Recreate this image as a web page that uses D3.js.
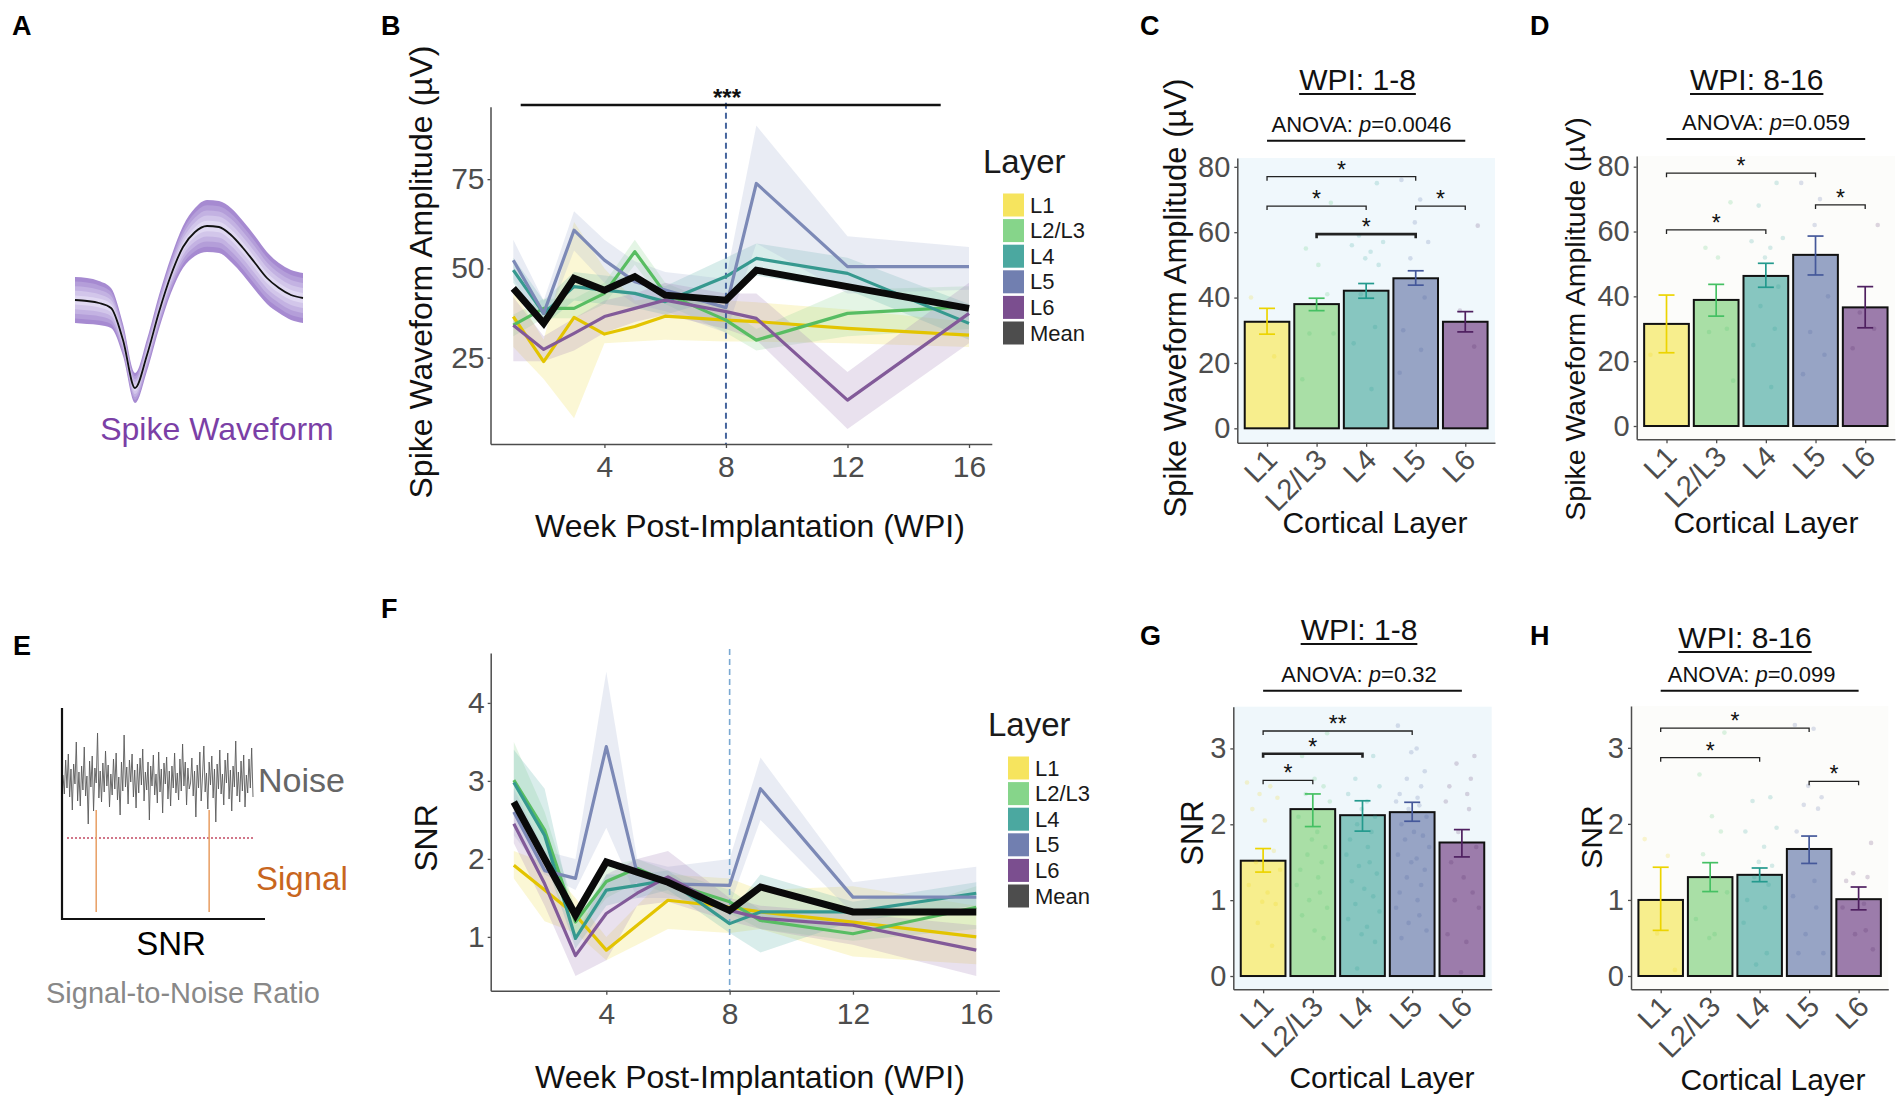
<!DOCTYPE html>
<html lang="en">
<head>
<meta charset="UTF-8">
<title>Spike waveform amplitude and SNR by cortical layer</title>
<script src="https://cdn.jsdelivr.net/npm/d3@7"></script>
<style>
  body { margin: 0; background: #fff; }
  svg { font-family: "Liberation Sans", Arial, sans-serif; }
</style>
</head>
<body>
<svg id="fig" width="1904" height="1104"></svg>
<script>
// ---------- data ----------
const layers = ["L1", "L2/L3", "L4", "L5", "L6"];
const legendNames = ["L1", "L2/L3", "L4", "L5", "L6", "Mean"];
const weeks = [1, 2, 3, 4, 5, 6, 8, 9, 12, 16];
const weekTicks = [4, 8, 12, 16];

// B: spike waveform amplitude (µV) per week, mean and ribbon bounds
const ampMean = [44.4, 34.6, 47.2, 43.9, 47.7, 42.5, 41.1, 49.5, 44.9, 38.8];
const ampL1 = [36.5, 23.9, 36.3, 31.6, 33.7, 36.6, 35.5, 35.1, 33.2, 31.3];
const ampL1Lo = [28, 19, 8, 29, 29.5, 30, 29.5, 29.5, 29, 28];
const ampL1Hi = [44, 30, 63, 50, 41, 42, 41, 40.5, 38.5, 35];
const ampL23 = [34.1, 38.8, 38.8, 43.0, 54.7, 43.0, 35.5, 29.9, 37.4, 39.3];
const ampL23Lo = [31, 36, 36, 40, 51, 40, 32, 27, 31, 33];
const ampL23Hi = [37, 41.5, 41.5, 46, 58, 46, 39, 33, 44, 45];
const ampL4 = [49.5, 37.4, 44.9, 43.9, 43.0, 40.7, 47.7, 52.8, 48.6, 34.6];
const ampL4Lo = [46, 34, 41, 40, 39, 37, 42, 48, 44, 30];
const ampL4Hi = [53, 41, 49, 48, 47, 45, 53, 57, 53, 40];
const ampL5 = [52.3, 37.4, 60.7, 52.3, 46.3, 43.9, 39.0, 73.8, 50.5, 50.5];
const ampL5Lo = [47, 33, 55, 46, 40, 38, 32, 57, 43, 44];
const ampL5Hi = [58, 41, 66, 58, 52, 49, 47, 90, 59, 56];
const ampL6 = [34.1, 27.3, 31.8, 36.5, 38.8, 41.1, 37.9, 36.0, 13.1, 37.4];
const ampL6Lo = [24, 24, 27, 32, 35, 37, 33, 30, 5, 29];
const ampL6Hi = [42, 31, 36, 41, 43, 46, 43, 43, 21, 46];

// F: SNR per week
const snrMean = [2.73, 2.0, 1.28, 1.96, 1.83, 1.70, 1.34, 1.64, 1.32, 1.32];
const snrL1 = [1.92, 1.6, 1.28, 0.83, 1.15, 1.47, 1.38, 1.32, 1.19, 1.0];
const snrL1Lo = [1.75, 1.2, 1.05, 0.7, 0.9, 1.1, 1.05, 1.1, 0.75, 0.65];
const snrL1Hi = [2.1, 1.95, 1.5, 1.0, 1.4, 1.8, 1.75, 1.6, 1.65, 1.4];
const snrL23 = [3.01, 2.37, 1.19, 1.71, 1.88, 1.70, 1.45, 1.21, 1.04, 1.38];
const snrL23Lo = [2.7, 2.1, 1.0, 1.5, 1.7, 1.55, 1.3, 1.1, 0.95, 1.1];
const snrL23Hi = [3.5, 2.6, 1.35, 1.9, 2.0, 1.85, 1.6, 1.35, 1.15, 1.65];
const snrL4 = [2.98, 2.3, 0.98, 1.60, 1.66, 1.73, 1.17, 1.32, 1.32, 1.56];
const snrL4Lo = [2.6, 2.0, 0.85, 1.4, 1.5, 1.6, 1.05, 0.8, 1.2, 1.4];
const snrL4Hi = [3.4, 2.9, 1.15, 1.8, 1.8, 1.85, 1.3, 1.8, 1.45, 1.7];
const snrL5 = [2.60, 1.85, 1.75, 3.44, 1.81, 1.68, 1.66, 2.90, 1.51, 1.51];
const snrL5Lo = [2.3, 1.8, 1.6, 2.4, 1.5, 1.5, 1.4, 2.5, 1.3, 1.3];
const snrL5Hi = [2.9, 2.1, 2.0, 4.4, 2.0, 1.9, 2.0, 3.3, 1.7, 1.9];
const snrL6 = [2.45, 1.68, 0.76, 1.30, 1.56, 1.77, 1.34, 1.24, 1.15, 0.83];
const snrL6Lo = [2.2, 1.4, 0.5, 0.7, 1.4, 1.45, 1.2, 1.1, 0.9, 0.5];
const snrL6Hi = [2.7, 2.0, 1.0, 1.8, 2.0, 2.1, 1.5, 1.4, 1.3, 1.15];

// C, D, G, H: bar means with error bar bounds
const ampEarly = [32.6, 38.0, 42.1, 45.9, 32.6];
const ampEarlyLo = [28.8, 36.0, 39.8, 43.8, 29.5];
const ampEarlyHi = [36.7, 39.8, 44.3, 48.2, 35.7];
const ampLate = [31.5, 38.9, 46.3, 52.8, 36.6];
const ampLateLo = [22.6, 33.9, 42.8, 46.6, 30.3];
const ampLateHi = [40.4, 43.7, 50.2, 58.6, 43.0];
const snrEarly = [1.52, 2.20, 2.12, 2.16, 1.76];
const snrEarlyLo = [1.37, 1.97, 1.91, 2.04, 1.57];
const snrEarlyHi = [1.68, 2.40, 2.31, 2.29, 1.93];
const snrLate = [1.00, 1.30, 1.33, 1.67, 1.01];
const snrLateLo = [0.60, 1.11, 1.24, 1.48, 0.87];
const snrLateHi = [1.43, 1.49, 1.42, 1.84, 1.17];

// individual channel values shown as faint points
const ampEarlyPts = [
  [40, 22],
  [69, 55, 50, 41, 29, 29, 15],
  [75, 59, 57, 56, 54, 52, 50, 41, 31, 26, 12],
  [76, 70, 63, 57, 52, 40, 30, 24, 17],
  [62, 36, 25]
];
const ampLatePts = [
  [22],
  [69, 55, 52, 30, 29, 14],
  [75, 68, 58, 57, 55, 52, 43, 37, 30, 25, 12],
  [75, 70, 62, 40, 29, 22, 16],
  [62, 35, 30, 24]
];
const snrEarlyPts = [
  [2.55, 2.5, 2.4, 2.35, 2.2, 2.05, 1.65, 1.5, 1.4, 1.2, 1.1, 0.98, 0.95, 0.7, 0.4],
  [3.2, 2.9, 2.6, 2.5, 2.4, 2.3, 2.1, 1.9, 1.8, 1.7, 1.6, 1.5, 1.4, 1.3, 1.2, 1.1, 1.0, 0.9, 0.8, 0.6, 0.5],
  [2.9, 2.6, 2.5, 2.4, 2.3, 2.2, 2.1, 2.0, 1.9, 1.8, 1.7, 1.6, 1.5, 1.45, 1.35, 1.25, 1.15, 1.05, 0.95, 0.85, 0.75, 0.65, 0.55, 0.45, 0.1],
  [3.3, 3.0, 2.95, 2.7, 2.6, 2.5, 2.4, 2.35, 2.3, 2.25, 2.2, 2.1, 2.0, 1.9, 1.85, 1.8, 1.7, 1.6, 1.55, 1.5, 1.4, 1.3, 1.2, 1.1, 1.0, 0.9, 0.8, 0.7, 0.6, 0.5],
  [2.9, 2.8, 2.6, 2.5, 2.4, 2.3, 2.2, 1.9, 1.7, 1.5, 1.3, 1.1, 1.0, 0.9, 0.55, 0.45, 0.05]
];
const snrLatePts = [
  [1.8, 1.58, 0.56, 0.08],
  [3.2, 2.65, 2.1, 1.9, 1.6, 1.1, 0.75, 0.55, 0.5],
  [2.35, 2.3, 1.95, 1.9, 1.7, 1.5, 1.45, 1.3, 1.2, 1.0, 0.9, 0.7, 0.3, 0.15],
  [3.3, 3.25, 2.5, 2.35, 2.25, 2.2, 1.9, 1.25, 1.05, 0.9, 0.55, 0.3, 0.3],
  [1.75, 1.35, 1.3, 1.25, 0.95, 0.9, 0.6, 0.55, 0.35]
];

// pairwise comparisons: [from, to, bracket height, label]
const ampEarlySig = [["L1", "L5", 77, "*"], ["L1", "L4", 68, "*"], ["L5", "L6", 68, "*"], ["L2/L3", "L5", 59.4, "*"]];
const ampLateSig = [["L1", "L5", 78, "*"], ["L1", "L4", 60.5, "*"], ["L5", "L6", 68.2, "*"]];
const snrEarlySig = [["L1", "L5", 3.23, "**"], ["L1", "L4", 2.93, "*"], ["L1", "L2/L3", 2.58, "*"]];
const snrLateSig = [["L1", "L5", 3.26, "*"], ["L1", "L4", 2.87, "*"], ["L5", "L6", 2.56, "*"]];

// A: schematic spike waveform (mean and spread)
const wfMean = [0, -1, -3, -8, -40, -88, -55, -12, 25, 53, 68, 74, 73, 65, 52, 37, 22, 12, 5, 2];
const wfSpread = [23, 23, 22, 20, 16, 15, 16, 17, 18, 21, 24, 26, 26, 27, 27, 27, 26, 25, 25, 25];

// E: schematic noise trace, detection threshold and two spike events
const noise = [5, -14, 20, -8, 26, -17, 11, -30, 16, -4, 38, -21, 8, -26, 14, -10, 33, -16, 4, -44,
  19, -7, 24, -31, 12, -3, 47, -18, 9, -22, 17, -12, 29, -6, 15, -27, 6, -15, 21, -9,
  27, -20, 3, -35, 18, -11, 45, -7, 13, -24, 20, -2, 26, -17, 10, -28, 16, -13, 22, -5,
  31, -21, 8, -10, 18, -40, 14, -6, 25, -15, 6, -23, 28, -12, 11, -33, 17, -4, 23, -19,
  9, -26, 14, -8, 27, -13, 7, -20, 21, -11, 36, -6, 18, -25, 12, -9,
  -3, 22, -16, 9, -37, 15, -8, 28, -21, 4, 34, -12, 7, -29, 18, -5, 24, -18, 11, -42,
  16, -9, 30, -14, 6, -25, 20, -3, 27, -19, 10, -31, 14, -7, 39, -16, 8, -22, 19, -11,
  25, -27, 5, -13, 21, -8, 32, -17];
const threshold = -58;
const spikeAt = [25, 110];
const spikeTop = -30;
const spikeBottom = -132;

// ---------- styles ----------
const FONT = "'Liberation Sans', Arial, sans-serif";
const lineCol = ["#e3c400", "#58bd62", "#36998f", "#7c89b6", "#825a99"];
const ribbonCol = ["#f0dc50", "#8ed692", "#5fb5ad", "#a3aed2", "#a283b6"];
const keyCol = ["#f6e45e", "#86d58a", "#4ba8a0", "#717fb0", "#7b4e8f", "#4d4d4d"];
const barCol = ["#f7ee8d", "#a9dfa6", "#87c6c0", "#97a4c5", "#9c7cab"];
const errCol = ["#ecd400", "#45c063", "#249a8e", "#45589a", "#4f2060"];
const gray = "#4d4d4d";
const jitter = [-0.9, 0.4, -0.2, 0.8, -0.6, 0.1, 0.6, -0.4, 0.95, -0.8, 0.25, -0.05, 0.7, -0.3, 0.5, -0.7, 0.3];

const svg = d3.select("#fig");

function label(t, x, y) {
  svg.append("text").attr("x", x).attr("y", y).attr("font-size", 27)
    .attr("font-weight", "bold").attr("fill", "#000").text(t);
}

function vLabel(t, x, y, size) {
  svg.append("text").attr("transform", `translate(${x},${y}) rotate(-90)`)
    .attr("text-anchor", "middle").attr("dominant-baseline", "central")
    .attr("font-size", size).attr("fill", "#111").text(t);
}

function styleAxis(size) {
  return sel => {
    sel.attr("font-family", FONT).attr("font-size", size);
    sel.select(".domain").attr("stroke", gray).attr("stroke-width", 1.5);
    sel.selectAll(".tick line").attr("stroke", gray).attr("stroke-width", 1.3);
    sel.selectAll(".tick text").attr("fill", gray);
  };
}

// ---------- line panels (B, F) ----------
function linePanel(o) {
  const g = svg.append("g");
  const x = d3.scaleLinear().domain([0.25, 16.75]).range(o.xr);
  const y = d3.scaleLinear().domain(o.yd).range(o.yr);
  const area = d3.area().x((d, i) => x(weeks[i])).y0(d => y(d[0])).y1(d => y(d[1]));
  const line = d3.line().x((d, i) => x(weeks[i])).y(d => y(d));

  o.series.forEach((s, k) => {
    g.append("path").attr("d", area(d3.zip(s.lo, s.hi)))
      .attr("fill", ribbonCol[k]).attr("opacity", 0.24);
  });
  g.append("line").attr("x1", x(8)).attr("x2", x(8))
    .attr("y1", o.yr[1] - 4).attr("y2", o.yr[0])
    .attr("stroke", o.dashCol).attr("stroke-width", o.dashW).attr("stroke-dasharray", "6,4");
  o.series.forEach((s, k) => {
    g.append("path").attr("d", line(s.mean)).attr("fill", "none")
      .attr("stroke", lineCol[k]).attr("stroke-width", 3.2).attr("stroke-linejoin", "round");
  });
  g.append("path").attr("d", line(o.mean)).attr("fill", "none")
    .attr("stroke", "#0a0a0a").attr("stroke-width", 7).attr("stroke-linejoin", "miter");

  g.append("g").attr("transform", `translate(0,${o.yr[0]})`)
    .call(d3.axisBottom(x).tickValues(weekTicks).tickSize(4).tickPadding(8).tickSizeOuter(0))
    .call(styleAxis(30));
  g.append("g").attr("transform", `translate(${o.xr[0]},0)`)
    .call(d3.axisLeft(y).tickValues(o.yTicks).tickFormat(d3.format("d")).tickSize(3).tickPadding(3).tickSizeOuter(0))
    .call(styleAxis(30));

  svg.append("text").attr("x", o.xLabel[0]).attr("y", o.xLabel[1]).attr("text-anchor", "middle")
    .attr("font-size", 32).attr("fill", "#111").text("Week Post-Implantation (WPI)");
  vLabel(o.yLabel, o.yLabelPos[0], o.yLabelPos[1], o.yLabelSize);

  // legend
  const lg = svg.append("g").attr("transform", `translate(${o.legend[0]},${o.legend[1]})`);
  lg.append("text").attr("x", 0).attr("y", 0).attr("font-size", 33).attr("fill", "#1a1a1a").text("Layer");
  legendNames.forEach((n, i) => {
    const cy = 32 + i * 25.6;
    lg.append("rect").attr("x", 20).attr("y", cy - 11.5).attr("width", 21).attr("height", 23)
      .attr("fill", keyCol[i]);
    lg.append("text").attr("x", 47).attr("y", cy + 7.5).attr("font-size", 22)
      .attr("fill", "#1a1a1a").text(n);
  });
  return { x, y };
}

// ---------- bar panels (C, D, G, H) ----------
function barPanel(o) {
  const g = svg.append("g");
  const x = d3.scalePoint().domain(layers).range(o.xr).padding(0.6);
  const y = d3.scaleLinear().domain(o.yd).range(o.yr);
  const bw = x.step() * 0.9;

  g.append("rect").attr("x", o.xr[0]).attr("y", o.yr[1])
    .attr("width", o.xr[1] - o.xr[0]).attr("height", o.yr[0] - o.yr[1]).attr("fill", o.bg);

  layers.forEach((l, k) => {
    g.append("rect").attr("x", x(l) - bw / 2).attr("y", y(o.vals[k]))
      .attr("width", bw).attr("height", y(0) - y(o.vals[k]))
      .attr("fill", barCol[k]).attr("stroke", "#111").attr("stroke-width", 2);
  });
  layers.forEach((l, k) => {
    o.pts[k].forEach((v, i) => {
      g.append("circle").attr("cx", x(l) + jitter[(i + k * 3) % jitter.length] * 0.36 * x.step())
        .attr("cy", y(v)).attr("r", 2.3).attr("fill", errCol[k]).attr("opacity", 0.18);
    });
  });
  layers.forEach((l, k) => {
    const cx = x(l), cw = 8;
    const eg = g.append("g").attr("stroke", errCol[k]).attr("stroke-width", 1.7);
    eg.append("line").attr("x1", cx).attr("x2", cx).attr("y1", y(o.lo[k])).attr("y2", y(o.hi[k]));
    eg.append("line").attr("x1", cx - cw).attr("x2", cx + cw).attr("y1", y(o.lo[k])).attr("y2", y(o.lo[k]));
    eg.append("line").attr("x1", cx - cw).attr("x2", cx + cw).attr("y1", y(o.hi[k])).attr("y2", y(o.hi[k]));
  });

  o.sig.forEach(([a, b, v, t], i) => {
    const yy = y(v);
    g.append("path").attr("d", `M${x(a)},${yy + 4}V${yy}H${x(b)}V${yy + 4}`)
      .attr("fill", "none").attr("stroke", "#222")
      .attr("stroke-width", o.boldSig === i ? 2.6 : 1.3);
    g.append("text").attr("x", (x(a) + x(b)) / 2).attr("y", yy + 1).attr("text-anchor", "middle")
      .attr("font-size", 23).attr("fill", "#111").text(t);
  });

  g.append("g").attr("transform", `translate(0,${o.yr[0]})`)
    .call(d3.axisBottom(x).tickSize(4).tickFormat("").tickSizeOuter(0))
    .call(styleAxis(29));
  g.append("g").attr("transform", `translate(${o.xr[0]},0)`)
    .call(d3.axisLeft(y).tickValues(o.yTicks).tickFormat(d3.format("d")).tickSize(3).tickPadding(4).tickSizeOuter(0))
    .call(styleAxis(29));
  layers.forEach(l => {
    g.append("text").attr("transform", `translate(${x(l) + 12},${o.yr[0] + 19}) rotate(-45)`)
      .attr("text-anchor", "end").attr("font-size", 29).attr("fill", gray).text(l);
  });

  // title with underline
  const tt = svg.append("text").attr("x", o.title[0]).attr("y", o.title[1]).attr("text-anchor", "middle")
    .attr("font-size", 30).attr("fill", "#111").text(o.titleText);
  const tw = tt.node().getComputedTextLength();
  svg.append("line").attr("x1", o.title[0] - tw / 2).attr("x2", o.title[0] + tw / 2)
    .attr("y1", o.title[1] + 4).attr("y2", o.title[1] + 4).attr("stroke", "#111").attr("stroke-width", 2);

  const an = svg.append("text").attr("x", o.anova[0]).attr("y", o.anova[1]).attr("text-anchor", "middle")
    .attr("font-size", 22).attr("fill", "#111");
  an.append("tspan").text("ANOVA: ");
  an.append("tspan").attr("font-style", "italic").text("p");
  an.append("tspan").text("=" + o.p);
  svg.append("line").attr("x1", x("L1")).attr("x2", x("L6"))
    .attr("y1", o.anova[1] + 9).attr("y2", o.anova[1] + 9).attr("stroke", "#111").attr("stroke-width", 2);

  svg.append("text").attr("x", o.xLabel[0]).attr("y", o.xLabel[1]).attr("text-anchor", "middle")
    .attr("font-size", 30).attr("fill", "#111").text("Cortical Layer");
  vLabel(o.yLabel, o.yLabelPos[0], o.yLabelPos[1], o.yLabelSize);
}

// ---------- A: spike waveform schematic ----------
(function () {
  const x = d3.scaleLinear().domain([0, wfMean.length - 1]).range([75, 303]);
  const y = d3.scaleLinear().domain([-100, 100]).range([400, 200]);
  const bands = [[1, "#a68ad1"], [0.8, "#b49ed9"], [0.6, "#c3b2e2"], [0.4, "#d2c6ea"], [0.2, "#e0d8f2"]];
  bands.forEach(([f, c]) => {
    svg.append("path").attr("fill", c)
      .attr("d", d3.area().curve(d3.curveMonotoneX).x((d, i) => x(i))
        .y0((d, i) => y(d - wfSpread[i] * f)).y1((d, i) => y(d + wfSpread[i] * f))(wfMean));
  });
  svg.append("path").attr("fill", "none").attr("stroke", "#111").attr("stroke-width", 1.8)
    .attr("d", d3.line().curve(d3.curveMonotoneX).x((d, i) => x(i)).y(d => y(d))(wfMean));
  svg.append("text").attr("x", 217).attr("y", 440).attr("text-anchor", "middle")
    .attr("font-size", 32).attr("fill", "#7b3fa6").text("Spike Waveform");
})();

// ---------- E: SNR schematic ----------
(function () {
  const x = d3.scaleLinear().domain([0, noise.length - 1]).range([63, 253]);
  const y = d3.scaleLinear().domain([0, 100]).range([780, 680]);
  svg.append("path").attr("fill", "none").attr("stroke", "#5a5a5a").attr("stroke-width", 0.9)
    .attr("d", d3.line().x((d, i) => x(i)).y(d => y(d))(noise));
  svg.append("line").attr("x1", 67).attr("x2", 253).attr("y1", y(threshold)).attr("y2", y(threshold))
    .attr("stroke", "#c24a63").attr("stroke-width", 1.6).attr("stroke-dasharray", "2,2");
  spikeAt.forEach(i => {
    svg.append("line").attr("x1", x(i)).attr("x2", x(i)).attr("y1", y(spikeTop)).attr("y2", y(spikeBottom))
      .attr("stroke", "#e9a36b").attr("stroke-width", 1.6);
  });
  svg.append("path").attr("d", "M62,708V919H265").attr("fill", "none").attr("stroke", "#111").attr("stroke-width", 2.2);
  svg.append("text").attr("x", 258).attr("y", 792).attr("font-size", 34).attr("fill", "#666").text("Noise");
  svg.append("text").attr("x", 256).attr("y", 890).attr("font-size", 33).attr("fill", "#c8661e").text("Signal");
  svg.append("text").attr("x", 171).attr("y", 955).attr("text-anchor", "middle").attr("font-size", 33)
    .attr("fill", "#000").text("SNR");
  svg.append("text").attr("x", 183).attr("y", 1003).attr("text-anchor", "middle").attr("font-size", 29)
    .attr("fill", "#888").text("Signal-to-Noise Ratio");
})();

// ---------- B ----------
linePanel({
  xr: [490.5, 991.8], yd: [0.8, 95.3], yr: [444, 106.7], yTicks: [25, 50, 75],
  series: [
    { mean: ampL1, lo: ampL1Lo, hi: ampL1Hi },
    { mean: ampL23, lo: ampL23Lo, hi: ampL23Hi },
    { mean: ampL4, lo: ampL4Lo, hi: ampL4Hi },
    { mean: ampL5, lo: ampL5Lo, hi: ampL5Hi },
    { mean: ampL6, lo: ampL6Lo, hi: ampL6Hi }
  ],
  mean: ampMean, dashCol: "#46659e", dashW: 2,
  xLabel: [750, 537], yLabel: "Spike Waveform Amplitude (µV)", yLabelPos: [421, 272], yLabelSize: 32,
  legend: [983, 173]
});
// overall comparison bar in B
svg.append("line").attr("x1", 520.7).attr("x2", 940.7).attr("y1", 105).attr("y2", 105)
  .attr("stroke", "#111").attr("stroke-width", 2.4);
svg.append("text").attr("x", 727).attr("y", 106).attr("text-anchor", "middle")
  .attr("font-size", 24).attr("font-weight", "bold").attr("fill", "#111").text("***");

// ---------- F ----------
linePanel({
  xr: [490.7, 999.4], yd: [0.31, 4.64], yr: [990.7, 653], yTicks: [1, 2, 3, 4],
  series: [
    { mean: snrL1, lo: snrL1Lo, hi: snrL1Hi },
    { mean: snrL23, lo: snrL23Lo, hi: snrL23Hi },
    { mean: snrL4, lo: snrL4Lo, hi: snrL4Hi },
    { mean: snrL5, lo: snrL5Lo, hi: snrL5Hi },
    { mean: snrL6, lo: snrL6Lo, hi: snrL6Hi }
  ],
  mean: snrMean, dashCol: "#79a8d2", dashW: 1.6,
  xLabel: [750, 1088], yLabel: "SNR", yLabelPos: [426, 838], yLabelSize: 32,
  legend: [988, 736]
});

// ---------- C, D, G, H ----------
barPanel({
  xr: [1237.3, 1495], yd: [-4.4, 82.7], yr: [442.7, 158], yTicks: [0, 20, 40, 60, 80], bg: "#f0f8fc",
  vals: ampEarly, lo: ampEarlyLo, hi: ampEarlyHi, pts: ampEarlyPts, sig: ampEarlySig, boldSig: 3,
  title: [1357.5, 90], titleText: "WPI: 1-8", anova: [1361.5, 131.7], p: "0.0046",
  xLabel: [1375, 533], yLabel: "Spike Waveform Amplitude (µV)", yLabelPos: [1175, 298], yLabelSize: 31
});
barPanel({
  xr: [1636.7, 1895], yd: [-4.1, 83.3], yr: [439.3, 156], yTicks: [0, 20, 40, 60, 80], bg: "#fcfcfa",
  vals: ampLate, lo: ampLateLo, hi: ampLateHi, pts: ampLatePts, sig: ampLateSig, boldSig: -1,
  title: [1756.7, 90], titleText: "WPI: 8-16", anova: [1766, 130], p: "0.059",
  xLabel: [1766, 533], yLabel: "Spike Waveform Amplitude (µV)", yLabelPos: [1575, 319], yLabelSize: 28.5
});
barPanel({
  xr: [1233.3, 1491.7], yd: [-0.175, 3.55], yr: [989.3, 706.7], yTicks: [0, 1, 2, 3], bg: "#eff7fb",
  vals: snrEarly, lo: snrEarlyLo, hi: snrEarlyHi, pts: snrEarlyPts, sig: snrEarlySig, boldSig: 1,
  title: [1359, 640], titleText: "WPI: 1-8", anova: [1359, 681.7], p: "0.32",
  xLabel: [1382, 1088], yLabel: "SNR", yLabelPos: [1192, 833], yLabelSize: 31
});
barPanel({
  xr: [1631, 1888.3], yd: [-0.175, 3.55], yr: [989.3, 706], yTicks: [0, 1, 2, 3], bg: "#fcfcfa",
  vals: snrLate, lo: snrLateLo, hi: snrLateHi, pts: snrLatePts, sig: snrLateSig, boldSig: -1,
  title: [1745, 648], titleText: "WPI: 8-16", anova: [1751.7, 681.7], p: "0.099",
  xLabel: [1773, 1090], yLabel: "SNR", yLabelPos: [1591, 837], yLabelSize: 30
});

// panel letters
label("A", 12, 35); label("B", 381, 35); label("C", 1140, 35); label("D", 1530, 35);
label("E", 13, 655); label("F", 381, 618); label("G", 1140, 645); label("H", 1530, 645);
</script>
</body>
</html>
